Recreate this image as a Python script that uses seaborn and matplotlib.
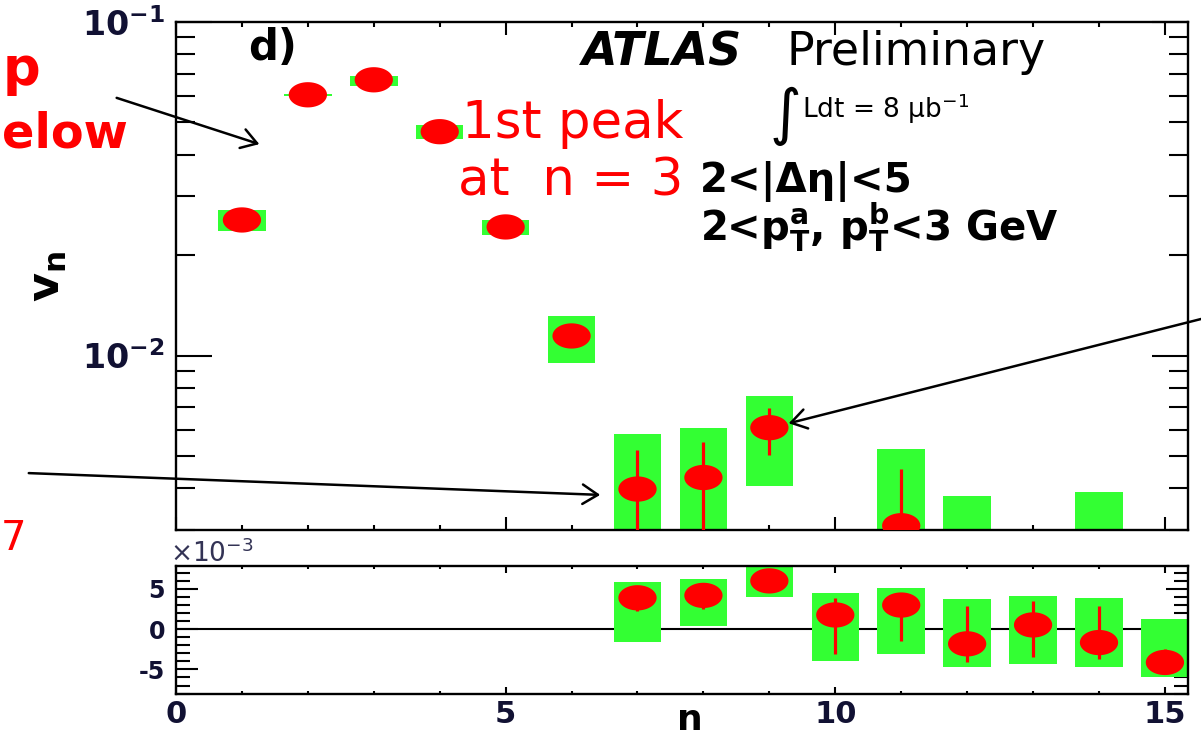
import numpy as np
import matplotlib
matplotlib.use("Agg")
import matplotlib.pyplot as plt
import seaborn as sns
import pandas as pd
from matplotlib.path import Path
from matplotlib.patches import FancyArrowPatch
from matplotlib.ticker import FixedLocator, NullFormatter, MultipleLocator, LogLocator

# ---------------- data: upper panel (v_n, log scale) ----------------
top_n = [1, 2, 3, 4, 5, 6, 7, 8, 9, 11]
top_vn = [0.0255, 0.0605, 0.0671, 0.0469, 0.0243, 0.01145, 0.00398, 0.00431, 0.00608, 0.00309]
top_stat_up = [0, 0, 0, 0, 0, 0, 0.00123, 0.00121, 0.00087, 0.00148]
top_stat_dn = [0, 0, 0, 0, 0, 0, 0.0017, 0.0017, 0.00104, 0.0010]
top_sys_n = [1, 2, 3, 4, 5, 6, 7, 8, 9, 11, 12, 14]
top_sys_hi = [0.0273, 0.0610, 0.0687, 0.0490, 0.0255, 0.01312, 0.00582, 0.00608, 0.00755, 0.00524, 0.00379, 0.00389]
top_sys_lo = [0.0236, 0.0600, 0.0644, 0.0447, 0.0230, 0.00953, 0.0005, 0.00037, 0.00406, 0.0005, 0.0005, 0.0005]

# ---------------- data: lower panel (v_n x 10^-3, linear) ----------------
bot_n = [7, 8, 9, 10, 11, 12, 13, 14, 15]
bot_vn = [3.9, 4.2, 6.0, 1.77, 3.0, -1.82, 0.53, -1.66, -4.13]
bot_stat_up = [1.2, 1.2, 0.9, 2.13, 1.0, 4.7, 2.94, 4.56, 1.69]
bot_stat_dn = [1.7, 1.7, 1.0, 4.83, 4.5, 2.2, 4.03, 2.04, 1.0]
bot_sys_hi = [5.9, 6.2, 9.0, 4.46, 5.15, 3.72, 4.16, 3.9, 1.27]
bot_sys_lo = [-1.6, 0.37, 4.04, -4.0, -3.06, -4.71, -4.3, -4.7, -5.95]

x_ticks = [0, 5, 10, 15]
x_tick_labels = ["0", "5", "10", "15"]
top_y_ticks = [1e-2, 1e-1]
top_y_labels = [r"$\mathbf{10^{-2}}$", r"$\mathbf{10^{-1}}$"]
bot_y_ticks = [-5, 0, 5]
bot_y_labels = ["-5", "0", "5"]

# ---------------- style ----------------
sns.set_theme(style="ticks")
plt.rcParams["font.family"] = ["DejaVu Sans"]
plt.rcParams["mathtext.fontset"] = "dejavusans"
plt.rcParams["axes.unicode_minus"] = False
plt.rcParams["axes.linewidth"] = 1.7
for k in ["text.color", "axes.labelcolor", "xtick.color", "ytick.color", "axes.edgecolor"]:
    plt.rcParams[k] = "black"

W, H = 1201, 735
fig = plt.figure(figsize=(W / 100, H / 100), dpi=100)
fig.patch.set_facecolor("white")

def fx(px):
    return px / W

def fy(py):
    return 1 - py / H

L, R = 176, 1188
ax1 = fig.add_axes([fx(L), fy(530), (R - L) / W, (530 - 22) / H])
ax2 = fig.add_axes([fx(L), fy(694), (R - L) / W, (694 - 566) / H])

GREEN = "#33ff33"
RED = "#ff0000"
LBL = "#111133"

# ellipse marker (stretched circle as in the reference)
t = np.linspace(0, 2 * np.pi, 60)
ellipse = Path(np.column_stack([np.cos(t), 0.66 * np.sin(t)]), closed=True)

# ---------------- upper panel ----------------
ax1.set_yscale("log")
hi = np.array(top_sys_hi)
lo = np.array(top_sys_lo)
ax1.bar(top_sys_n, hi - lo, bottom=lo, width=0.72, color=GREEN, linewidth=0, zorder=2)
tv = np.array(top_vn)
up = np.array(top_stat_up)
dn = np.array(top_stat_dn)
mask = (up > 0) | (dn > 0)
ax1.vlines(np.array(top_n)[mask], (tv - dn)[mask].clip(1e-4), (tv + up)[mask],
           color=RED, lw=2.3, zorder=3)
df_top = pd.DataFrame({"n": top_n, "vn": top_vn})
sns.scatterplot(data=df_top, x="n", y="vn", ax=ax1, marker=ellipse, s=760,
                color=RED, edgecolor="none", linewidth=0, zorder=5, legend=False)

ax1.set_xlim(0, 15.35)
ax1.set_ylim(3e-3, 0.1)
ax1.xaxis.set_major_locator(FixedLocator(x_ticks))
ax1.xaxis.set_minor_locator(MultipleLocator(1))
ax1.set_yticks(top_y_ticks)
ax1.set_yticklabels(top_y_labels)
ax1.yaxis.set_minor_locator(LogLocator(base=10, subs=np.arange(2, 10)))
ax1.yaxis.set_minor_formatter(NullFormatter())
ax1.tick_params(axis="x", which="major", direction="in", length=9.5, width=1.5,
                top=True, bottom=True, labelbottom=False)
ax1.tick_params(axis="x", which="minor", direction="in", length=3.8, width=1.5,
                top=True, bottom=True)
ax1.tick_params(axis="y", which="major", direction="in", length=26, width=1.5,
                left=True, right=True, labelsize=24, pad=8, labelcolor=LBL)
ax1.tick_params(axis="y", which="minor", direction="in", length=13.5, width=1.5,
                left=True, right=True)
ax1.set_xlabel("")
ax1.set_ylabel(r"$\mathbf{v_n}$", fontsize=32, rotation=90)
ax1.yaxis.set_label_coords(-0.106, 0.5)

# ---------------- lower panel ----------------
ax2.axhline(0, color="black", lw=1.5, zorder=1)
bh = np.array(bot_sys_hi)
bl = np.array(bot_sys_lo)
ax2.bar(bot_n, bh - bl, bottom=bl, width=0.72, color=GREEN, linewidth=0, zorder=2)
bv = np.array(bot_vn)
ax2.vlines(bot_n, bv - np.array(bot_stat_dn), bv + np.array(bot_stat_up),
           color=RED, lw=2.3, zorder=3)
df_bot = pd.DataFrame({"n": bot_n, "vn": bot_vn})
sns.scatterplot(data=df_bot, x="n", y="vn", ax=ax2, marker=ellipse, s=760,
                color=RED, edgecolor="none", linewidth=0, zorder=5, legend=False)

ax2.set_xlim(0, 15.35)
ax2.set_ylim(-8.05, 7.85)
ax2.set_xticks(x_ticks)
ax2.set_xticklabels(x_tick_labels, fontweight="bold", fontsize=22)
ax2.xaxis.set_minor_locator(MultipleLocator(1))
ax2.set_yticks(bot_y_ticks)
ax2.set_yticklabels(bot_y_labels, fontweight="bold", fontsize=17)
ax2.yaxis.set_minor_locator(MultipleLocator(1))
ax2.tick_params(axis="x", which="major", direction="in", length=5, width=1.5,
                top=True, bottom=True, pad=4, labelcolor=LBL)
ax2.tick_params(axis="x", which="minor", direction="in", length=2.5, width=1.5,
                top=True, bottom=True)
ax2.tick_params(axis="y", which="major", direction="in", length=16, width=1.5,
                left=True, right=True, pad=8, labelcolor=LBL)
ax2.tick_params(axis="y", which="minor", direction="in", length=10, width=1.5,
                left=True, right=True)
ax2.set_ylabel("")
ax2.set_xlabel("n", fontsize=26, fontweight="bold", va="center")
ax2.xaxis.set_label_coords(0.508, -0.2)

fig.text(fx(170), fy(562), r"$\times10^{-3}$", fontsize=19, color="#333355",
         ha="left", va="baseline")

# ---------------- in-plot texts ----------------
fig.text(fx(248), fy(60), "d)", fontsize=30, fontweight="bold", ha="left", va="baseline")
fig.text(fx(582), fy(65), "ATLAS", fontsize=33, fontweight="bold", fontstyle="italic",
         ha="left", va="baseline")
fig.text(fx(786), fy(65), "Preliminary", fontsize=33, ha="left", va="baseline")
fig.text(fx(770), fy(133), "∫", fontsize=44, ha="left", va="baseline")
fig.text(fx(802), fy(118), r"Ldt = 8 μb$^{-1}$", fontsize=19, ha="left", va="baseline")
fig.text(fx(700), fy(192), "2<|Δη|<5", fontsize=29, fontweight="bold",
         ha="left", va="baseline")
fig.text(fx(700), fy(242), r"2<$\mathbf{p_{T}^{a}}$, $\mathbf{p_{T}^{b}}$<3 GeV",
         fontsize=29, fontweight="bold", ha="left", va="baseline")

# ---------------- slide annotations (red text, arrows) ----------------
fig.text(fx(40), fy(85), "p", fontsize=38, fontweight="bold", color=RED,
         ha="right", va="baseline")
fig.text(fx(128), fy(147), "elow", fontsize=34.5, fontweight="bold", color=RED,
         ha="right", va="baseline")
fig.text(fx(462), fy(138), "1st peak", fontsize=37, color=RED, ha="left", va="baseline")
fig.text(fx(458), fy(196), "at  n = 3", fontsize=37, color=RED, ha="left", va="baseline")
fig.text(fx(1), fy(550), "7", fontsize=29, color=RED, ha="left", va="baseline")

arrow_style = "->,head_length=0.55,head_width=0.35"
for (x0, y0), (x1, y1) in [((114, 97), (262, 145)),
                           ((26, 473), (603, 495)),
                           ((1205, 318), (786, 424))]:
    fig.add_artist(FancyArrowPatch((fx(x0), fy(y0)), (fx(x1), fy(y1)),
                                   transform=fig.transFigure, arrowstyle=arrow_style,
                                   mutation_scale=20, lw=1.8, color="black"))

fig.savefig("out.png", dpi=100, facecolor="white")
